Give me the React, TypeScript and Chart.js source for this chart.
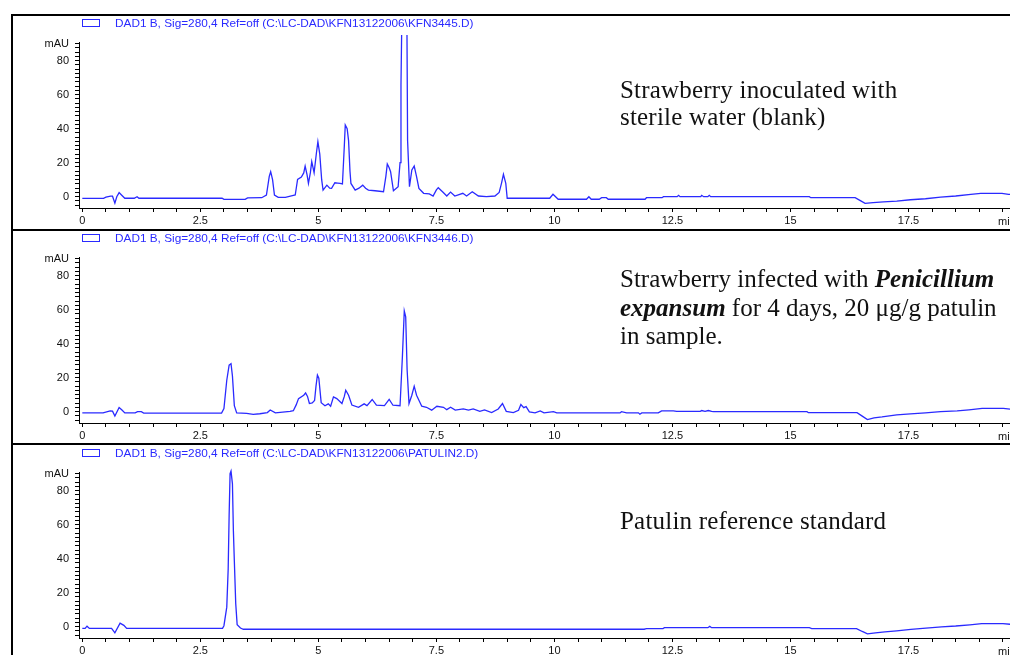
import React, { useEffect, useRef } from "react";
import { Chart, registerables } from "chart.js";

Chart.register(...registerables);

// ---------- data (retention time in min, absorbance in mAU) ----------
const blankTime = [
  0, 0.45, 0.5, 0.6, 0.64, 0.69, 0.73, 0.78, 0.83, 0.9, 1.1, 1.16, 1.2, 2.96, 3.0, 3.45, 3.5,
  3.8, 3.9, 3.96, 3.99, 4.03, 4.07, 4.15, 4.3, 4.45, 4.51, 4.56, 4.64, 4.69, 4.72, 4.76, 4.79,
  4.83, 4.86, 4.91, 4.96, 4.99, 5.03, 5.07, 5.1, 5.18, 5.24, 5.28, 5.35, 5.41, 5.46, 5.51, 5.55,
  5.57, 5.61, 5.64, 5.67, 5.69, 5.78, 5.86, 5.94, 6.0, 6.06, 6.2, 6.38, 6.43, 6.46, 6.5, 6.53,
  6.59, 6.69, 6.73, 6.75, 6.78, 6.87, 6.89, 6.93, 6.98, 7.03, 7.08, 7.13, 7.23, 7.35, 7.43, 7.5,
  7.54, 7.63, 7.72, 7.8, 7.89, 8.06, 8.14, 8.26, 8.39, 8.56, 8.74, 8.83, 8.88, 8.92, 8.97, 9.0,
  9.9, 9.97, 10.08, 10.68, 10.73, 10.78, 10.95, 11.0, 11.1, 11.14, 11.92, 11.95, 12.28, 12.31,
  12.6, 12.63, 12.66, 13.1, 13.12, 13.16, 13.25, 13.28, 13.31, 15.4, 15.43, 16.37, 16.48, 16.58,
  16.75, 16.97, 17.25, 17.54, 17.86, 18.18, 18.5, 18.82, 19.03, 19.48, 19.62, 19.7,
];
const blankSignal = [
  -1, -1, -0.3, 0.3, 0.3, -3.8, 0, 2.4, 1, -0.9, -0.9, 0, -0.9, -0.9, -1.6, -1.6, -0.7,
  -0.6, 1, 12, 14.7, 10, 1, -0.4, -0.4, 0.6, 1, 10.2, 11.5, 14, 18, 13, 7.8,
  14, 20.6, 14.1, 26, 32.4, 25, 10, 3.9, 6.8, 5, 4.9, 8.2, 8, 7.8, 7.5, 30,
  42.2, 40, 33, 15, 7.8, 3.9, 5, 6.8, 5, 3.9, 3.5, 2.9, 12, 19.2, 17, 14.7,
  3.5, 5.9, 20, 65.7, 130, 130, 33, 5.9, 15.7, 18, 11.8, 4.9, 2, 1.6, 0.4, 4,
  5.3, 2.9, 0.4, 2.7, 0.4, 2, 0.4, 2.9, 0.4, 0, 0.4, 2.5, 8, 13.2, 7.8, -0.9,
  -0.9, 1.4, -1.5, -1.5, 0, -1.5, -1.5, -0.6, -0.6, -1.5, -1.5, -0.6, -0.6, 0,
  0, 0.8, 0, 0, 0.8, 0, 0, 0.8, 0, 0, -0.6, -0.6, -2.3, -3.9,
  -3.5, -3.1, -2.6, -1.8, -1.2, -0.2, 0.4, 1.4, 2, 2, 1.4, 1.2,
];

const infectedTime = [
  0, 0.44, 0.59, 0.64, 0.69, 0.78, 0.84, 0.9, 1.12, 1.17, 1.25, 1.3, 2.95, 3.0, 3.06, 3.11,
  3.15, 3.18, 3.22, 3.27, 3.48, 3.62, 3.76, 3.92, 3.98, 4.09, 4.4, 4.47, 4.53, 4.58, 4.69, 4.73,
  4.77, 4.81, 4.87, 4.92, 4.95, 4.98, 5.01, 5.06, 5.14, 5.21, 5.26, 5.32, 5.39, 5.5, 5.55, 5.58,
  5.64, 5.71, 5.85, 5.97, 6.03, 6.14, 6.23, 6.4, 6.5, 6.58, 6.73, 6.78, 6.82, 6.85, 6.88, 6.92,
  6.98, 7.03, 7.08, 7.19, 7.29, 7.4, 7.51, 7.65, 7.72, 7.8, 7.9, 8.07, 8.18, 8.28, 8.42, 8.52,
  8.67, 8.81, 8.9, 8.98, 9.13, 9.24, 9.29, 9.35, 9.4, 9.47, 9.59, 9.7, 9.78, 9.98, 10.05, 11.39,
  11.42, 11.53, 11.78, 11.81, 11.85, 12.2, 12.27, 12.52, 12.59, 13.09, 13.12, 13.19, 13.26, 13.33,
  13.37, 15.35, 15.38, 16.41, 16.52, 16.63, 16.77, 16.94, 17.25, 17.54, 17.86, 18.18, 18.53,
  18.78, 19.06, 19.51, 19.7,
];
const infectedSignal = [
  -0.7, -0.7, 0.5, 0.3, -2.6, 2.5, 1, -0.7, -0.7, 0, 0, -0.8, -0.8, 1.9, 18.5, 27.4,
  28.2, 21, 3.6, -0.7, -1, -1.6, -1.2, -0.5, 1, -0.7, 0.2, 0.6, 4, 7.7, 9.7, 11,
  9, 4.8, 5.2, 6.6, 15, 21.5, 19.7, 5.3, 3.5, 4.6, 3.2, 8.7, 7.7, 4.8, 9, 12.6,
  9.7, 3.9, 2.6, 4.6, 3.6, 7.2, 3.9, 3.6, 7.2, 3.8, 3.5, 32.3, 59.3, 55.8, 24.7, 4.8,
  9.7, 15, 9.7, 3.2, 2.6, 0.9, 3.2, 2.6, 1.2, 2.6, 0.9, 1.6, 0.9, 1.6, 0.2, 1,
  -0.5, 1.6, 4.8, 0.2, -0.5, 0.8, 4.2, 2.4, 3, -0.1, -0.7, 0.5, -0.7, 0, -0.7, -0.7,
  0, -0.7, -0.7, -1.5, -0.7, -0.7, 0.5, 0.5, 0.2, 0.2, 0.7, 0.2, 0.7, 0.2,
  0, 0, -0.6, -0.6, -2.6, -4.6, -3.6, -3.1, -1.9, -1.3, -0.7, 0, 0.5,
  1.1, 1.9, 1.9, 1.3,
];

const standardTime = [
  0, 0.06, 0.1, 0.15, 0.62, 0.69, 0.8, 0.88, 0.94, 2.97, 3.0, 3.06, 3.09, 3.11, 3.13, 3.15,
  3.18, 3.2, 3.22, 3.25, 3.28, 3.35, 3.41, 11.9, 11.95, 12.3, 12.33, 13.25, 13.29, 13.33, 15.4,
  15.45, 16.4, 16.52, 16.63, 16.8, 17.0, 17.25, 17.55, 17.87, 18.2, 18.5, 18.8, 19.05, 19.5, 19.7,
];
const standardSignal = [
  -1, -1, 0.3, -1, -1, -3.6, 2.1, 0.8, -1, -1, 0.6, 11.5, 34, 65.4, 90, 91.5,
  84, 56.6, 39, 13.5, 1.2, -0.8, -1.5, -1.5, -1.1, -1.1, -0.6, -0.6, 0.2, -0.6, -0.6,
  -1.1, -1.1, -2.8, -4.2, -3.6, -3.1, -2.4, -1.6, -0.9, -0.1, 0.4, 1.1, 1.8, 1.8, 1.3,
];

const xMajorTicks = [0, 2.5, 5, 7.5, 10, 12.5, 15, 17.5];
const xMajorLabels = ["0", "2.5", "5", "7.5", "10", "12.5", "15", "17.5"];
const yMajorTicks = [0, 20, 40, 60, 80];
const yMajorLabels = ["0", "20", "40", "60", "80"];
const yUnitLabel = "mAU";
const xUnitLabel = "min";

const fileNames = [
  "DAD1 B, Sig=280,4 Ref=off (C:\\LC-DAD\\KFN13122006\\KFN3445.D)",
  "DAD1 B, Sig=280,4 Ref=off (C:\\LC-DAD\\KFN13122006\\KFN3446.D)",
  "DAD1 B, Sig=280,4 Ref=off (C:\\LC-DAD\\KFN13122006\\PATULIN2.D)",
];

// ---------- style ----------
const TRACE = "#2a2aff";
const X_MIN = -0.07;
const X_MAX = 19.65;
const Y_MIN = -6.65;
const Y_MAX = 91;
const X_MINOR: number[] = [];
for (let i = 0; i <= 39; i++) X_MINOR.push(i * 0.5);
const Y_MINOR: number[] = [];
for (let i = -2; i <= 36; i++) Y_MINOR.push(i * 2.5);

const near = (a: number, b: number) => Math.abs(a - b) < 1e-6;

function Panel(props: { top: number; t: number[]; v: number[]; file: string }) {
  const ref = useRef<HTMLCanvasElement | null>(null);
  useEffect(() => {
    if (!ref.current) return;
    const chart = new Chart(ref.current, {
      type: "line",
      data: {
        datasets: [
          {
            data: props.t.map((x, i) => ({ x, y: props.v[i] })),
            borderColor: TRACE,
            borderWidth: 1.3,
            pointRadius: 0,
            tension: 0,
            fill: false,
            clip: { left: 4, top: 7, right: 0, bottom: 4 } as any,
          },
        ],
      },
      options: {
        animation: false,
        responsive: false,
        events: [],
        layout: { padding: { top: 27, left: 0, right: 0, bottom: 0 } },
        plugins: { legend: { display: false }, tooltip: { enabled: false } },
        scales: {
          x: {
            type: "linear",
            min: X_MIN,
            max: X_MAX,
            afterBuildTicks: (s: any) => {
              s.ticks = X_MINOR.map((value) => ({ value }));
            },
            afterFit: (s: any) => {
              s.height = 22;
              s.paddingLeft = 0;
              s.paddingRight = 0;
            },
            ticks: {
              autoSkip: false,
              maxRotation: 0,
              padding: 2,
              color: "#111",
              font: { family: "Liberation Sans", size: 11 },
              callback: (val: any) => {
                const i = xMajorTicks.findIndex((m) => near(m, Number(val)));
                return i >= 0 ? xMajorLabels[i] : "";
              },
            },
            grid: { drawOnChartArea: false, tickLength: 4, color: "#000" },
            border: { color: "#000", width: 1 },
          },
          y: {
            type: "linear",
            min: Y_MIN,
            max: Y_MAX,
            afterBuildTicks: (s: any) => {
              s.ticks = Y_MINOR.map((value) => ({ value }));
            },
            afterFit: (s: any) => {
              s.width = 79;
              s.paddingTop = 0;
              s.paddingBottom = 0;
            },
            ticks: {
              autoSkip: false,
              padding: 6,
              color: "#111",
              font: { family: "Liberation Sans", size: 11 },
              callback: (val: any) => {
                const n = Number(val);
                if (near(n, 90)) return yUnitLabel;
                const i = yMajorTicks.findIndex((m) => near(m, n));
                return i >= 0 ? yMajorLabels[i] : "";
              },
            },
            grid: { drawOnChartArea: false, tickLength: 4, color: "#000" },
            border: { color: "#000", width: 1 },
          },
        },
      },
    });
    return () => chart.destroy();
  }, []);
  return (
    <>
      <canvas
        ref={ref}
        width={1010}
        height={215}
        style={{ position: "absolute", left: 0, top: props.top, width: 1010, height: 215 }}
      />
      <div
        style={{
          position: "absolute",
          left: 82,
          top: props.top + 4,
          width: 18,
          height: 8,
          boxSizing: "border-box",
          border: `1.5px solid ${TRACE}`,
        }}
      />
      <div
        style={{
          position: "absolute",
          left: 115,
          top: props.top + 1,
          lineHeight: "14px",
          fontFamily: "Liberation Sans",
          fontSize: 11.8,
          color: TRACE,
          whiteSpace: "nowrap",
        }}
      >
        {props.file}
      </div>
      <div
        style={{
          position: "absolute",
          left: 998,
          top: props.top + 199,
          lineHeight: "14px",
          fontFamily: "Liberation Sans",
          fontSize: 11,
          color: "#111",
          whiteSpace: "nowrap",
        }}
      >
        {xUnitLabel}
      </div>
    </>
  );
}

const noteStyle: React.CSSProperties = {
  position: "absolute",
  left: 620,
  fontFamily: "Liberation Serif",
  fontSize: 25,
  letterSpacing: 0.2,
  color: "#111",
  whiteSpace: "nowrap",
};

export default function App() {
  const tops = [15, 230, 445];
  return (
    <div
      style={{
        position: "fixed",
        left: 0,
        top: 0,
        width: 1010,
        height: 655,
        overflow: "hidden",
        background: "#fff",
      }}
    >
      <div style={{ position: "absolute", left: 11, top: 14, width: 1010, height: 2, background: "#000" }} />
      <div style={{ position: "absolute", left: 11, top: 229, width: 1010, height: 2, background: "#000" }} />
      <div style={{ position: "absolute", left: 11, top: 443, width: 1010, height: 2, background: "#000" }} />
      <div style={{ position: "absolute", left: 11, top: 14, width: 2, height: 660, background: "#000" }} />
      <Panel top={tops[0]} t={blankTime} v={blankSignal} file={fileNames[0]} />
      <Panel top={tops[1]} t={infectedTime} v={infectedSignal} file={fileNames[1]} />
      <Panel top={tops[2]} t={standardTime} v={standardSignal} file={fileNames[2]} />
      <div style={{ ...noteStyle, top: 76, lineHeight: "27px" }}>
        Strawberry inoculated with
        <br />
        sterile water (blank)
      </div>
      <div style={{ ...noteStyle, top: 265, lineHeight: "28.5px", letterSpacing: 0 }}>
        Strawberry infected with{" "}
        <b>
          <i>Penicillium</i>
        </b>
        <br />
        <b>
          <i>expansum</i>
        </b>{" "}
        for 4 days, 20 μg/g patulin
        <br />
        in sample.
      </div>
      <div style={{ ...noteStyle, top: 507, lineHeight: "27px" }}>Patulin reference standard</div>
    </div>
  );
}
